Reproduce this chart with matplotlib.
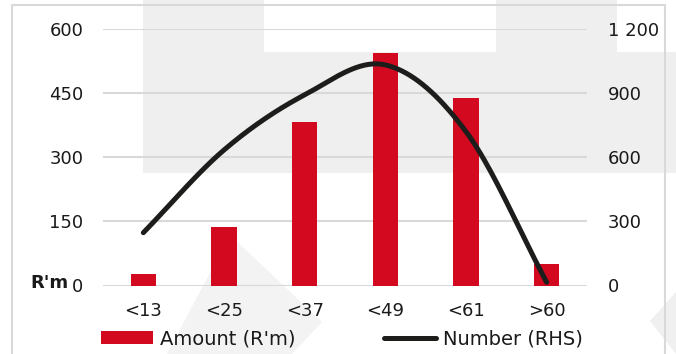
import numpy as np
import matplotlib.pyplot as plt
from matplotlib.patches import Polygon, Rectangle
from matplotlib.lines import Line2D

# Age groups, amount (R'm, left axis) and number (right axis)
categories = ['<13', '<25', '<37', '<49', '<61', '>60']
amount = [28, 138, 383, 545, 438, 50]
number = [247, 634, 892, 1032, 720, 15]

left_ticks = [0, 150, 300, 450, 600]
right_ticks = [0, 300, 600, 900, 1200]
right_labels = ['0', '300', '600', '900', '1 200']

RED = '#d2091f'
DARK = '#1d1d1b'
GRID = '#d9d9d9'

plt.rcParams['font.family'] = 'DejaVu Sans'
W, H = 676, 354
fig = plt.figure(figsize=(W / 100, H / 100), dpi=100)


def fx(px):
    return px / W


def fy(py):
    return 1 - py / H


# light grey background shapes
bg = [
    ([(143, 0), (264, 0), (264, 52), (496, 52), (496, 0), (617, 0), (617, 52),
      (676, 52), (676, 173), (143, 173)], '#efefef'),
    ([(230, 235), (322, 322), (292, 354), (167, 354)], '#f3f3f3'),
    ([(650, 321), (676, 292), (676, 354)], '#f0f0f0'),
]
for pts, col in bg:
    fig.patches.append(Polygon([(fx(x), fy(y)) for x, y in pts], closed=True,
                               transform=fig.transFigure, facecolor=col,
                               edgecolor='none', zorder=-2))

# outer frame
fig.add_artist(Line2D([fx(12), fx(12), fx(665), fx(665)], [0, fy(5), fy(5), 0],
                      transform=fig.transFigure, color=GRID, lw=1.5, zorder=-1))

ax = fig.add_axes([fx(103), fy(285.5), fx(587) - fx(103), (285.5 - 29) / H])
ax.set_facecolor('none')
ax2 = ax.twinx()

x = np.arange(len(categories))
ax.bar(x, amount, width=0.31, color=RED, zorder=2)

# smooth curve (Catmull-Rom through the points)
xs, ys = [], []
px = np.concatenate([[x[0]], x, [x[-1]]]).astype(float)
py = np.concatenate([[number[0]], number, [number[-1]]]).astype(float)
for i in range(1, len(px) - 2):
    t = np.linspace(0, 1, 40)
    p0, p1, p2, p3 = py[i - 1], py[i], py[i + 1], py[i + 2]
    q0, q1, q2, q3 = px[i - 1], px[i], px[i + 1], px[i + 2]
    if i == 1:
        q0, p0 = 2 * q1 - q2, 2 * p1 - p2
    if i == len(px) - 3:
        q3, p3 = 2 * q2 - q1, 2 * p2 - p1
    for a, b, c, d, out in ((q0, q1, q2, q3, xs), (p0, p1, p2, p3, ys)):
        out.extend(0.5 * (2 * b + (-a + c) * t + (2 * a - 5 * b + 4 * c - d) * t ** 2
                          + (-a + 3 * b - 3 * c + d) * t ** 3))
ax2.plot(xs, ys, color=DARK, lw=3.6, solid_capstyle='round', zorder=3)

ax.set_xlim(-0.5, len(categories) - 0.5)
ax.set_ylim(0, 600)
ax2.set_ylim(0, 1200)
ax.set_yticks(left_ticks)
ax2.set_yticks(right_ticks)
ax2.set_yticklabels(right_labels)
ax.set_xticks(x)
ax.set_xticklabels(categories)

ax.grid(axis='y', color=GRID, lw=1.5, zorder=0)
ax.set_axisbelow(True)
for a in (ax, ax2):
    for s in a.spines.values():
        s.set_visible(False)
ax.tick_params(axis='y', length=0, pad=14, labelsize=13, labelcolor='#1a1a1a')
ax.tick_params(axis='x', length=0, pad=12, labelsize=13, labelcolor='#1a1a1a')
ax2.tick_params(axis='y', length=0, pad=15, labelsize=13, labelcolor='#1a1a1a')

fig.text(fx(68), fy(283), "R'm", ha='right', va='center', fontsize=13,
         fontweight='bold', color='#1a1a1a')

handles = [Rectangle((0, 0), 1, 1, facecolor=RED),
           Line2D([], [], color=DARK, lw=3.6, solid_capstyle='round')]
fig.legend(handles, ["Amount (R'm)", 'Number (RHS)'], ncol=2, frameon=False,
           loc='center left', bbox_to_anchor=(fx(83), fy(339)), fontsize=14,
           handlelength=2.7, handleheight=0.6, handletextpad=0.35,
           columnspacing=4.55, labelcolor='#1a1a1a')

fig.savefig('out.png', dpi=100)
